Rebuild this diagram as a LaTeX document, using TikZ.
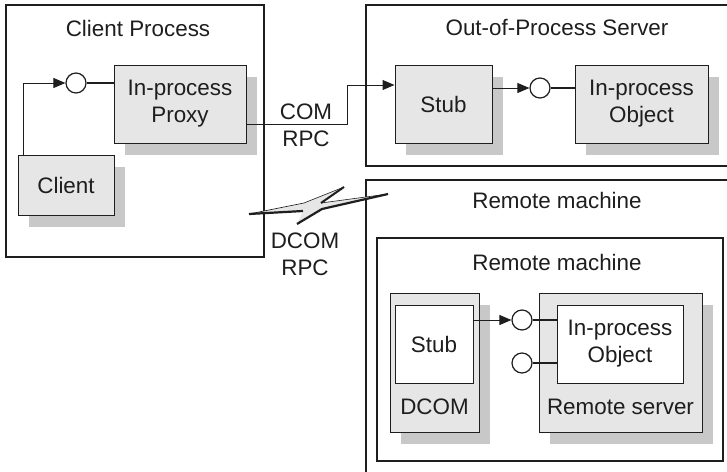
\documentclass[tikz,border=0pt]{standalone}
\usepackage{fontspec}
\setmainfont{Liberation Sans}
\usetikzlibrary{arrows.meta, positioning, shadows}
\definecolor{boxgray}{RGB}{230,230,230}
\definecolor{shadegray}{RGB}{200,200,200}
\definecolor{inkgray}{RGB}{30,30,30}
\begin{document}
\begin{tikzpicture}[x=0.5pt, y=-0.5pt, font=\fontsize{11.2}{13.5}\selectfont, color=inkgray,
  grp/.style={draw, line width=0.7pt},
  comp/.style={rectangle, draw, line width=0.5pt, fill=boxgray, align=center, drop shadow={shadow xshift=5.5pt, shadow yshift=-6pt, fill=shadegray, opacity=1}},
  inbox/.style={rectangle, draw, line width=0.5pt, fill=white, align=center},
  port/.style={circle, draw, line width=0.6pt, fill=white, minimum size=10pt, inner sep=0pt},
  arr/.style={-{Triangle[length=6pt, width=5pt]}, line width=0.5pt},
  link/.style={line width=0.9pt}
]
\useasboundingbox (0,0) rectangle (727,471);
\clip (0,0) rectangle (727,471);
% containers
\draw[grp] (6,5) rectangle (264,257);
\draw[grp] (366,5) rectangle (740,166);
\draw[grp] (366,180) rectangle (740,490);
\draw[grp] (377,238) rectangle (723,461);
\node (clientttl) at (138,28) {Client Process};
\node (serverttl) at (557,28) {Out-of-Process Server};
\node (remotettl) at (557,200) {Remote machine};
\node (innerttl) at (557,262) {Remote machine};
% client process
\node[comp, minimum width=66pt, minimum height=39pt] (proxy) at (180,104) {In-process\\Proxy};
\node[comp, minimum width=48pt, minimum height=30pt] (client) at (66,185) {Client};
\node[port] (cp) at (76,83) {};
% out-of-process server
\node[comp, minimum width=48.5pt, minimum height=39pt] (stub) at (443.5,104) {Stub};
\node[comp, minimum width=66.5pt, minimum height=39pt] (obj) at (641.5,104) {In-process\\Object};
\node[port] (sp) at (540,88) {};
% remote machine
\node[comp, minimum width=44.5pt, minimum height=69.5pt] (dcom) at (434.5,362.5) {};
\node (dcomlbl) at (434.5,407) {DCOM};
\node[inbox, minimum width=39pt, minimum height=39pt] (stubr) at (434,344) {Stub};
\node[comp, minimum width=81.5pt, minimum height=69.5pt] (rsrv) at (620.5,362.5) {};
\node (rsrvlbl) at (620.5,407) {Remote server};
\node[inbox, minimum width=63pt, minimum height=39pt] (objr) at (620,344) {In-process\\Object};
\node[port] (rp1) at (522,320) {};
\node[port] (rp2) at (522,363) {};
% labels
\node[align=center] (comrpc) at (306,125.5) {COM\\RPC};
\node[align=center] (dcomrpc) at (305,254) {DCOM\\RPC};
% connectors
\coordinate (bend) at (347,85);
\draw[arr] ([xshift=3pt]client.north west) |- (cp.west);
\draw[link] (cp.east) -- (cp -| proxy.west);
\draw[arr] ([yshift=-10pt]proxy.east) -| (bend) -- (bend -| stub.west);
\draw[arr] (stub.east |- sp) -- (sp.west);
\draw[link] (sp.east) -- (sp -| obj.west);
\draw[arr] (stubr.east |- rp1) -- (rp1.west);
\draw[link] (rp1.east) -- (rp1 -| objr.west);
\draw[link] (rp2.east) -- (rp2 -| objr.west);
% lightning
\fill[boxgray] (249,214) -- (304,203) -- (344,187) -- (321,203) -- (388,194) -- (322,209) -- (297,224) -- (303,211) -- cycle;
\draw[line width=0.3pt] (249,214) -- (304,203) -- (344,187) (321,203) -- (388,194);
\draw[line width=1.1pt] (249,214) -- (303,211) (297,224) -- (322,209) -- (388,194);
\draw[line width=1pt] (344,187) -- (321,203);
\end{tikzpicture}
\end{document}
